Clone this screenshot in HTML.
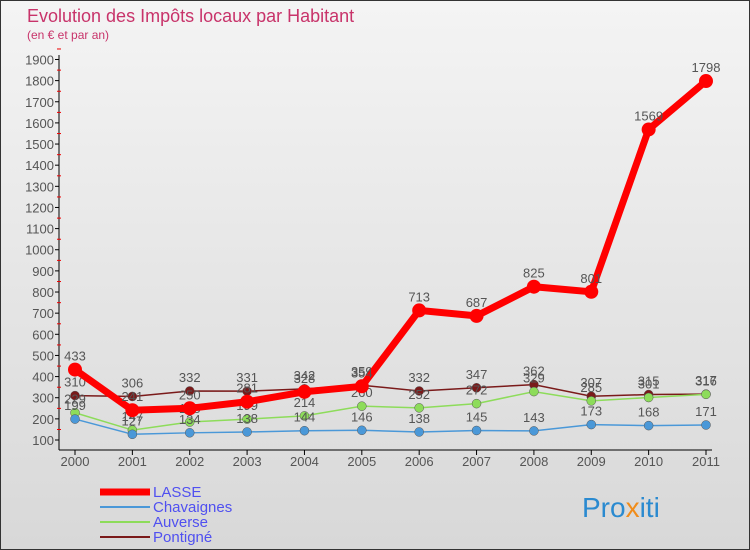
<!DOCTYPE html>
<html><head><meta charset="utf-8"><style>
body{margin:0;width:750px;height:550px;overflow:hidden;font-family:"Liberation Sans",sans-serif}
#wrap{position:absolute;left:0;top:0;width:748px;height:548px;border:1px solid #333;background:linear-gradient(#f4f4f4,#d8d8d8)}
</style></head><body>
<div id="wrap">
<svg id="svg" width="750" height="550" style="position:absolute;left:-1px;top:-1px">
<text x="27" y="22" font-size="18" fill="#c8336a">Evolution des Impôts locaux par Habitant</text>
<text x="27" y="39" font-size="12" fill="#c8336a">(en € et par an)</text>
<g id="axes"></g><g id="series"></g><g id="legend"></g>
<text x="582" y="517" font-size="28" fill="#2a8ad0">Pro<tspan fill="#f08c1a">x</tspan>iti</text>
</svg></div>
<script>
const years=[2000,2001,2002,2003,2004,2005,2006,2007,2008,2009,2010,2011];
const yTicks=[100,200,300,400,500,600,700,800,900,1000,1100,1200,1300,1400,1500,1600,1700,1800,1900];
const lasse=[433,241,250,281,328,354,713,687,825,801,1569,1798];
const chavaignes=[199,127,134,138,144,146,138,145,143,173,168,171];
const auverse=[229,147,185,199,214,260,252,272,329,285,301,316];
const pontigne=[310,306,332,331,342,359,332,347,362,307,315,317];
const NS="http://www.w3.org/2000/svg";
const X=i=>75+i*(706-75)/11;
const Y=v=>440-(v-100)*0.2114;
function mk(p,tag,at){const e=document.createElementNS(NS,tag);for(const k in at)e.setAttribute(k,at[k]);p.appendChild(e);return e;}
const ax=document.getElementById('axes');
let a=mk(ax,'line',{x1:59,y1:55,x2:59,y2:450,stroke:'#000'});

a=mk(ax,'line',{x1:59,y1:450,x2:712,y2:450,stroke:'#000'});

yTicks.forEach(v=>{
 mk(ax,'line',{x1:55,y1:Y(v),x2:59,y2:Y(v),stroke:'#000'});
 mk(ax,'line',{x1:57,y1:Y(v)-10.5,x2:61,y2:Y(v)-10.5,stroke:'#e00'});
 const t=mk(ax,'text',{x:54,y:Y(v)+5,'text-anchor':'end','font-size':13,fill:'#555'});t.textContent=v;
 
});
years.forEach((y,i)=>{
 mk(ax,'line',{x1:X(i),y1:450,x2:X(i),y2:455,stroke:'#000'});
 const t=mk(ax,'text',{x:X(i),y:466,'text-anchor':'middle','font-size':13,fill:'#555'});t.textContent=y;
 
});
const S=[
 {n:'Pontigné',d:pontigne,c:'#7a1a1a',w:1.5,r:4.5,id:'pontigne'},
 {n:'Auverse',d:auverse,c:'#8ddc5a',w:1.5,r:4.5,id:'auverse'},
 {n:'Chavaignes',d:chavaignes,c:'#4a98d8',w:1.5,r:4.5,id:'chavaignes'},
 {n:'LASSE',d:lasse,c:'#ff0000',w:7,r:7,id:'lasse'}];
const sg=document.getElementById('series');
S.forEach(s=>{
 const g=mk(sg,'g',{});
 
 const l=mk(g,'polyline',{points:s.d.map((v,i)=>X(i)+','+Y(v)).join(' '),fill:'none',stroke:s.c,'stroke-width':s.w});
 
 s.d.forEach((v,i)=>{
  const c=mk(g,'circle',{cx:X(i),cy:Y(v),r:s.r,fill:s.c,stroke:s.w>2?'none':'#555','stroke-width':0.5});
  
  const t=mk(g,'text',{x:X(i),y:Y(v)-9,'text-anchor':'middle','font-size':13,fill:'#555'});t.textContent=v;
  
 });
});
const lg=document.getElementById('legend');
[S[3],S[2],S[1],S[0]].forEach((s,k)=>{
 const y=492+k*15;
 const g=mk(lg,'g',{});
 
 mk(g,'line',{x1:100,y1:y,x2:150,y2:y,stroke:s.c,'stroke-width':s.w>2?7:2});
 const t=mk(g,'text',{x:153,y:y+5,'font-size':15,fill:'#5050f0'});t.textContent=s.n;
});
</script></body></html>
